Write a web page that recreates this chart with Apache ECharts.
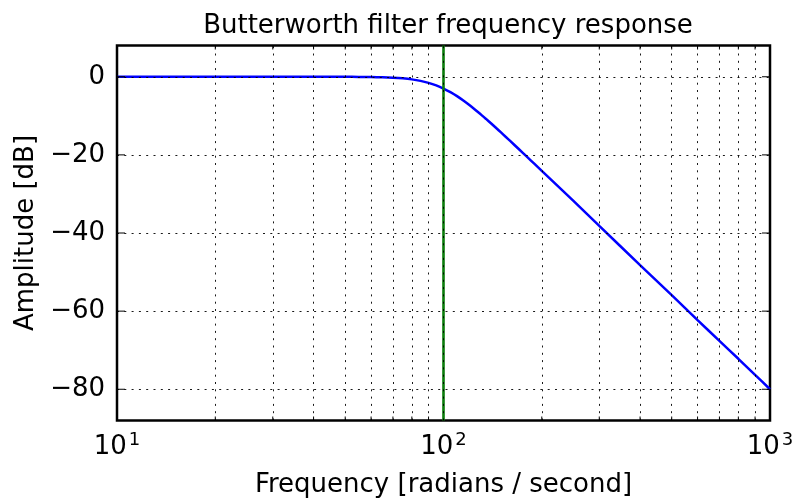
<!DOCTYPE html>
<html>
<head>
<meta charset="utf-8">
<script src="https://cdn.jsdelivr.net/npm/echarts@6/dist/echarts.min.js"></script>
<style>
  html, body { margin: 0; padding: 0; background: #fff; }
  #chart { width: 793px; height: 500px; }
</style>
</head>
<body>
<div id="chart"></div>
<script>
// Frequency response of a 4th-order low-pass Butterworth filter (cutoff 100 rad/s)
const freq = [10, 20, 30, 40, 50, 55, 60, 65, 70, 75, 80, 85, 90, 95, 100, 105, 110, 115, 120,
  125, 130, 135, 140, 145, 150, 155, 160, 170, 180, 190, 200, 250, 300, 400, 500, 600, 700,
  800, 900, 1000];
const amplitudeDb = [0, 0, 0, 0, -0.02, -0.04, -0.07, -0.14, -0.24, -0.41, -0.67, -1.05, -1.56,
  -2.21, -3.01, -3.94, -4.97, -6.08, -7.24, -8.43, -9.62, -10.80, -11.97, -13.13, -14.25, -15.36,
  -16.43, -18.50, -20.46, -22.32, -24.1, -31.8, -38.2, -48.2, -55.9, -62.3, -67.6, -72.2, -76.3,
  -80.0];
const cutoff = 100;

const yTicks = [0, -20, -40, -60, -80];
const xMajor = [10, 100, 1000];
const xMinor = [20, 30, 40, 50, 60, 70, 80, 90, 200, 300, 400, 500, 600, 700, 800, 900];
const yMin = -88, yMax = 8;

const FONT = 'DejaVu Sans';
const FS = 26;
const dotted = { color: '#000', width: 1, type: [2, 5.3], opacity: 0.9 };

function gridLines() {
  const data = [];
  xMajor.concat(xMinor).forEach(v => data.push({ xAxis: v }));
  yTicks.forEach(v => data.push({ yAxis: v }));
  return data;
}

const chart = echarts.init(document.getElementById('chart'), null, { renderer: 'canvas' });

chart.setOption({
  animation: false,
  backgroundColor: '#fff',
  title: {
    text: 'Butterworth filter frequency response',
    left: 443, top: 8, textAlign: 'center',
    textStyle: { fontFamily: FONT, fontSize: FS, fontWeight: 'normal', color: '#000' }
  },
  grid: {
    left: 117, right: 23, top: 45.5, bottom: 79.5,
    outerBoundsMode: 'none',
    show: true, borderColor: '#000', borderWidth: 2.5, backgroundColor: 'transparent',
    containLabel: false
  },
  xAxis: {
    type: 'log', logBase: 10, min: 10, max: 1000, interval: 1,
    name: 'Frequency [radians / second]', nameLocation: 'middle', nameGap: 52,
    nameTextStyle: { fontFamily: FONT, fontSize: FS, color: '#000' },
    axisLine: { show: false },
    axisTick: { show: false },
    splitLine: { show: false },
    axisLabel: {
      margin: 11, color: '#000', fontFamily: FONT, fontSize: FS,
      formatter: v => '10{s|' + Math.round(Math.log10(v)) + '}',
      rich: { s: { fontFamily: FONT, fontSize: 18, color: '#000', padding: [0, 0, 13, 2] } }
    }
  },
  yAxis: {
    type: 'value', min: yMin, max: yMax,
    name: 'Amplitude [dB]', nameLocation: 'middle', nameGap: 64, nameRotate: 90,
    nameTextStyle: { fontFamily: FONT, fontSize: FS, color: '#000' },
    axisLine: { show: false },
    axisTick: { show: false },
    splitLine: { show: false },
    axisLabel: {
      margin: 12, color: '#000', fontFamily: FONT, fontSize: FS,
      customValues: yTicks,
      formatter: v => (v < 0 ? '\u2212' + Math.abs(v) : String(v))
    }
  },
  series: [
    {
      // dotted grid at major and minor positions
      type: 'line', data: [], silent: true, z: 1,
      markLine: {
        silent: true, symbol: 'none', label: { show: false },
        lineStyle: dotted, data: gridLines(), animation: false
      }
    },
    {
      // inward tick marks on all four sides
      type: 'custom', silent: true, z: 5, clip: false,
      data: xMinor.map(v => [v, 0]).concat(yTicks.map(v => [v, 1])),
      encode: { x: 0 },
      renderItem: function (params, api) {
        const v = api.value(0);
        const ls = { stroke: '#000', lineWidth: 1 };
        if (params.dataIndex < xMinor.length) {
          const b = api.coord([v, yMin]);
          const t = api.coord([v, yMax]);
          return { type: 'group', children: [
            { type: 'line', shape: { x1: b[0], y1: b[1], x2: b[0], y2: b[1] - 4 }, style: ls },
            { type: 'line', shape: { x1: t[0], y1: t[1], x2: t[0], y2: t[1] + 4 }, style: ls }
          ] };
        }
        const l = api.coord([10, v]);
        const r = api.coord([1000, v]);
        return { type: 'group', children: [
          { type: 'line', shape: { x1: l[0], y1: l[1], x2: l[0] + 8, y2: l[1] }, style: ls },
          { type: 'line', shape: { x1: r[0], y1: r[1], x2: r[0] - 8, y2: r[1] }, style: ls }
        ] };
      }
    },
    {
      name: 'response', type: 'line', z: 3,
      data: freq.map((f, i) => [f, amplitudeDb[i]]),
      showSymbol: false, smooth: 0.2,
      lineStyle: { color: '#0000ff', width: 2.5 }
    },
    {
      name: 'cutoff', type: 'line', z: 4,
      data: [[cutoff, yMin], [cutoff, yMax]],
      showSymbol: false,
      lineStyle: { color: '#0b7d0b', width: 2.6 }
    }
  ]
});
</script>
</body>
</html>
